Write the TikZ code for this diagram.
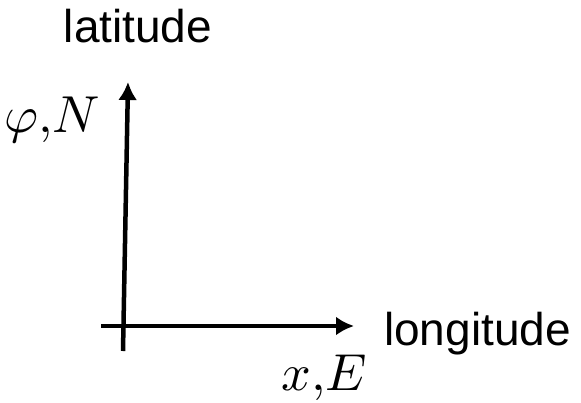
\documentclass[tikz,border=0pt]{standalone}
\usepackage{fontspec}
\setmainfont{Liberation Sans}
\usetikzlibrary{arrows.meta}
\tikzset{
	axis/.style={line width=4.5pt, -{Latex[length=18pt, width=19pt]}},
	word/.style={inner sep=0pt, font=\fontsize{46}{55}\selectfont},
	sym/.style={inner sep=0pt, scale=5.2},
}
\begin{document}
\begin{tikzpicture}[x=1pt, y=-1pt]
	\useasboundingbox (0,0) rectangle (581,402);
	\coordinate (vbot) at (123,351);
	\coordinate (vtop) at (128,82);
	\coordinate (hleft) at (101,326);
	\coordinate (hright) at (354,326);
	\draw[axis] (vbot) -- (vtop);
	\draw[axis] (hleft) -- (hright);
	\node[word, anchor=base] (lat) at (138,42) {latitude};
	\node[word, anchor=base west] (lon) at (384,345) {longitude};
	\node[sym, anchor=base east] (phin) at (101,132) {$\varphi{,}N$};
	\node[sym, anchor=base east] (xe) at (368,390) {$x{,}E$};
\end{tikzpicture}
\end{document}
